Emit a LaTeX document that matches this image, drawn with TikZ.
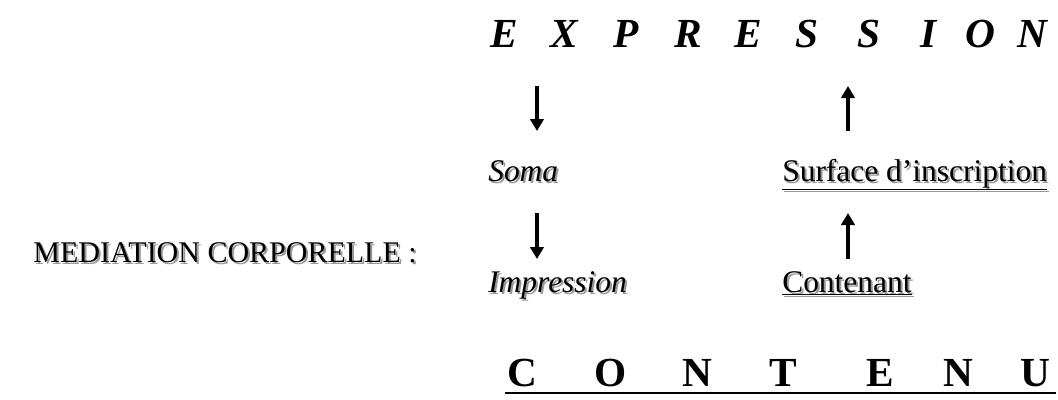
\documentclass[tikz,border=0pt]{standalone}
\usepackage{fontspec}
\setmainfont{Liberation Serif}
\usetikzlibrary{arrows.meta}
\begin{document}
\begin{tikzpicture}[x=0.75pt,y=-0.75pt,
  big/.style={inner sep=0pt,anchor=base west,font=\fontsize{31}{33}\selectfont\bfseries\itshape},
  bigc/.style={inner sep=0pt,anchor=base west,font=\fontsize{31}{33}\selectfont\bfseries},
  lbl/.style={inner sep=0pt,anchor=base west,font=\fontsize{23.6}{26}\selectfont},
  medl/.style={inner sep=0pt,anchor=base east,font=\fontsize{22.5}{26}\selectfont},
  shad/.style={text=black!40},
  arr/.style={line width=2.3pt,-{Triangle[length=9pt,width=10pt]}}]
\useasboundingbox (0,0) rectangle (1058,400);
% EXPRESSION
\foreach \c/\x [count=\i] in {E/490,X/550,P/613,R/674,E/734,S/795,S/857,I/920,O/965,N/1017}
  \node[big] (e\i) at (\x,47) {\c};
% CONTENU
\foreach \c/\x [count=\i] in {C/507,O/594,N/682,T/769,E/866,N/943,U/1020}
  \node[bigc] (c\i) at (\x,386) {\c};
\coordinate (ul1) at (505,393); \coordinate (ul2) at (1056,393);
\draw[line width=1.2pt] (ul1) -- (ul2);
% shadowed labels
\foreach \nm/\x/\y/\t in {soma/488/181/{\itshape Soma},
    surf/782/181/{\underline{Surface d'inscription}},
    impr/488/292/{\itshape Impression},
    cont/782/292/{\underline{Contenant}}} {
  \node[lbl,shad] at (\x+2,\y+2) {\t};
  \node[lbl] (\nm) at (\x,\y) {\t};
}
\node[medl,shad] at (419,264) {MEDIATION CORPORELLE :};
\node[medl] (med) at (417,262) {MEDIATION CORPORELLE :};
% arrows
\coordinate (a1s) at (537,86); \coordinate (a1e) at (537,131);
\coordinate (a2s) at (848,131); \coordinate (a2e) at (848,86);
\coordinate (a3s) at (537,213); \coordinate (a3e) at (537,259);
\coordinate (a4s) at (848,259); \coordinate (a4e) at (848,213);
\draw[arr] (a1s) -- (a1e);
\draw[arr] (a2s) -- (a2e);
\draw[arr] (a3s) -- (a3e);
\draw[arr] (a4s) -- (a4e);
\end{tikzpicture}
\end{document}
